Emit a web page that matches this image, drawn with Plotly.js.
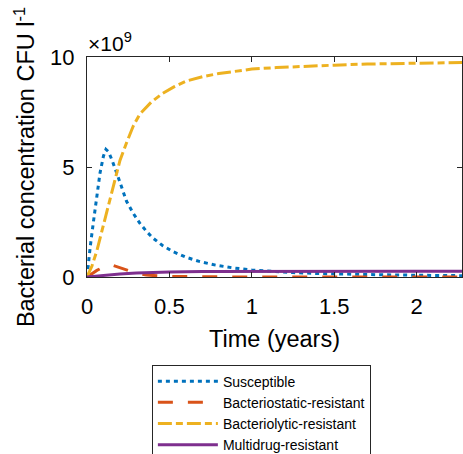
<!DOCTYPE html>
<html><head><meta charset="utf-8">
<script src="https://cdn.plot.ly/plotly-3.0.1.min.js"></script>
<style>html,body{margin:0;padding:0;background:#fff;overflow:hidden}#chart{width:463px;height:480px}</style>
</head><body><div id="chart"></div>
<script>
const susT = [0,0.005,0.02,0.038,0.06,0.079,0.1,0.115,0.13,0.15,0.18,0.21,0.24,0.28,0.32,0.36,0.40,0.46,0.52,0.6,0.68,0.78,0.89,1.0,1.1,1.25,1.4,1.6,1.8,2.0,2.28];
const susV = [0,0.4,1.4,2.45,3.7,4.73,5.5,5.8,5.7,5.35,4.73,4.05,3.44,2.9,2.45,2.08,1.77,1.42,1.16,0.9,0.71,0.54,0.41,0.32,0.26,0.2,0.16,0.12,0.1,0.08,0.06];
const statT = [0,0.03,0.06,0.1,0.13,0.16,0.2,0.24,0.3,0.36,0.45,0.55,0.7,1.0,1.5,2.0,2.28];
const statV = [0,0.15,0.3,0.45,0.55,0.52,0.42,0.3,0.17,0.09,0.04,0.02,0.01,0,0,0,0];
const lytT = [0,0.03,0.06,0.1,0.14,0.2,0.24,0.28,0.32,0.39,0.46,0.53,0.6,0.7,0.8,0.89,1.0,1.15,1.29,1.5,1.7,2.0,2.28];
const lytV = [0,0.5,1.2,2.4,3.6,5.3,6.1,6.85,7.4,7.95,8.35,8.65,8.9,9.1,9.25,9.35,9.45,9.52,9.57,9.63,9.68,9.72,9.75];
const multiT = [0,0.05,0.1,0.2,0.3,0.4,0.5,0.7,1.0,1.5,2.0,2.28];
const multiV = [0,0.04,0.08,0.14,0.18,0.21,0.23,0.25,0.26,0.26,0.26,0.26];
const names = ['Susceptible','Bacteriostatic-resistant','Bacteriolytic-resistant','Multidrug-resistant'];
const xTicks = [0,0.5,1,1.5,2];
const yTicks = [0,5,10];

const F = 'Liberation Sans, Arial, sans-serif';
const traces = [
  {x:susT,y:susV,name:names[0],mode:'lines',line:{color:'#0072BD',width:3,dash:'4px,4px'}},
  {x:statT,y:statV,name:names[1],mode:'lines',line:{color:'#D95319',width:3,dash:'15px,15px'}},
  {x:lytT,y:lytV,name:names[2],mode:'lines',line:{color:'#EDB120',width:3,dash:'14px,4px,7px,4px'}},
  {x:multiT,y:multiV,name:names[3],mode:'lines',line:{color:'#7E2F8E',width:3}}
];
const layout = {
  width:463,height:480,
  margin:{l:87,r:1,t:57,b:203},
  paper_bgcolor:'#fff',plot_bgcolor:'#fff',
  font:{family:F,color:'#000',size:22},
  showlegend:true,
  legend:{x:0.173,xanchor:'left',y:-0.398,yanchor:'top',bordercolor:'#262626',borderwidth:1,bgcolor:'#fff',
    font:{family:F,size:14,color:'#000'},itemwidth:60,tracegroupgap:0},
  xaxis:{range:[0,2.275],tickvals:xTicks,ticktext:xTicks.map(String),ticks:'inside',ticklen:5,tickcolor:'#262626',
    showline:true,linecolor:'#262626',linewidth:1,mirror:'ticks',showgrid:false,zeroline:false,ticklabelstandoff:10,
    tickfont:{size:22,family:F},title:{text:'Time (years)',font:{size:23.5,family:F},standoff:12}},
  yaxis:{range:[0,10],tickvals:yTicks,ticktext:yTicks.map(String),ticks:'inside',ticklen:5,tickcolor:'#262626',
    showline:true,linecolor:'#262626',linewidth:1,mirror:'ticks',showgrid:false,zeroline:false,ticklabelstandoff:7,
    tickfont:{size:22,family:F},title:{text:'Bacterial concentration CFU l<sup>-1</sup>',font:{size:23.5,family:F},standoff:8}},
  annotations:[{xref:'paper',yref:'paper',x:0,y:1,xanchor:'left',yanchor:'bottom',showarrow:false,
    text:'×10<sup>9</sup>',font:{size:21,family:F},xshift:-1,yshift:0}]
};
Plotly.newPlot('chart',traces,layout,{displayModeBar:false,staticPlot:true});
</script></body></html>
